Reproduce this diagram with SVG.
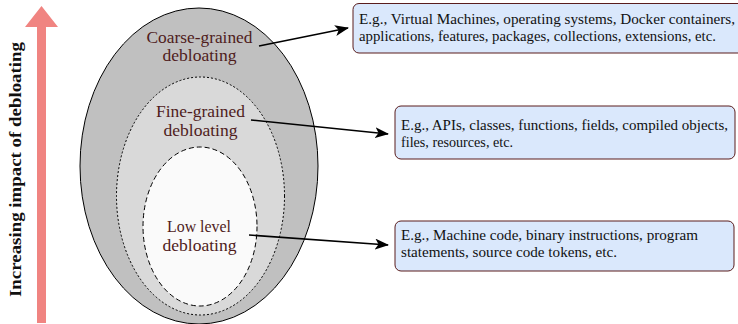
<svg xmlns="http://www.w3.org/2000/svg" width="738" height="324" viewBox="0 0 738 324">
  <defs>
    <marker id="head" viewBox="0 0 14 11" refX="13" refY="5.5" markerWidth="14" markerHeight="11" markerUnits="userSpaceOnUse" orient="auto">
      <path d="M0,0 L14,5.5 L0,11 L3.5,5.5 Z" fill="#000"/>
    </marker>
  </defs>
  <style>
    .label { font-family: "Liberation Serif", "Times New Roman", serif; font-size: 17px; fill: #4f1c1c; text-anchor: middle; }
    .note { font-family: "Liberation Serif", "Times New Roman", serif; font-size: 14px; fill: #111; }
    .box { fill: #dae8fc; stroke: #5a1d1d; stroke-width: 1; }
    .link { fill: none; stroke: #000; stroke-width: 1.6; marker-end: url(#head); }
  </style>
  <rect width="738" height="324" fill="#fff"/>

  <!-- impact axis -->
  <g id="impact-axis">
    <path d="M37,323 L37,27 L25,27 L41.5,6 L58,27 L46,27 L46,323 Z" fill="#f08481"/>
    <text transform="translate(21,169.5) rotate(-90)" text-anchor="middle" font-family="'Liberation Serif', 'Times New Roman', serif" font-size="16" font-weight="bold" fill="#111" textLength="255" lengthAdjust="spacingAndGlyphs">Increasing impact of debloating</text>
  </g>

  <!-- nested levels -->
  <g id="coarse-grained">
    <ellipse cx="199" cy="166" rx="119" ry="158" fill="#c0c0c0" stroke="#000" stroke-width="1"/>
    <text class="label" x="199.5" y="42.5" textLength="106" lengthAdjust="spacingAndGlyphs">Coarse-grained</text>
    <text class="label" x="199.5" y="60.5" textLength="74" lengthAdjust="spacingAndGlyphs">debloating</text>
  </g>
  <g id="fine-grained">
    <ellipse cx="200.5" cy="196" rx="84" ry="119" fill="#d9d9d9" stroke="#000" stroke-width="1" stroke-dasharray="2 2"/>
    <text class="label" x="200.5" y="116.5" textLength="89" lengthAdjust="spacingAndGlyphs">Fine-grained</text>
    <text class="label" x="200.5" y="135.5" textLength="74" lengthAdjust="spacingAndGlyphs">debloating</text>
  </g>
  <g id="low-level">
    <ellipse cx="200" cy="226.5" rx="57" ry="79.5" fill="#fafafa" stroke="#000" stroke-width="1" stroke-dasharray="5 3"/>
    <text class="label" x="199" y="231.5" textLength="64" lengthAdjust="spacingAndGlyphs">Low level</text>
    <text class="label" x="199.5" y="251" textLength="74" lengthAdjust="spacingAndGlyphs">debloating</text>
  </g>

  <!-- example boxes -->
  <g id="coarse-examples">
    <rect class="box" x="353" y="3.5" width="400" height="49.5" rx="6"/>
    <text class="note" x="359" y="23.5" textLength="376" lengthAdjust="spacingAndGlyphs">E.g., Virtual Machines, operating systems, Docker containers,</text>
    <text class="note" x="359" y="40.5" textLength="357" lengthAdjust="spacingAndGlyphs">applications, features, packages, collections, extensions, etc.</text>
  </g>
  <g id="fine-examples">
    <rect class="box" x="395" y="106" width="340" height="53" rx="6"/>
    <text class="note" x="401" y="130" textLength="327" lengthAdjust="spacingAndGlyphs">E.g., APIs, classes, functions, fields, compiled objects,</text>
    <text class="note" x="401" y="146.5" textLength="112" lengthAdjust="spacingAndGlyphs">files, resources, etc.</text>
  </g>
  <g id="low-level-examples">
    <rect class="box" x="395" y="221" width="339" height="50" rx="6"/>
    <text class="note" x="401" y="240" textLength="297" lengthAdjust="spacingAndGlyphs">E.g., Machine code, binary instructions, program</text>
    <text class="note" x="401" y="257" textLength="216" lengthAdjust="spacingAndGlyphs">statements, source code tokens, etc.</text>
  </g>

  <!-- connectors -->
  <g id="connectors">
    <line class="link" x1="259" y1="46" x2="348" y2="28"/>
    <line class="link" x1="251" y1="120" x2="388" y2="134"/>
    <line class="link" x1="249" y1="235" x2="388" y2="245"/>
  </g>
</svg>
